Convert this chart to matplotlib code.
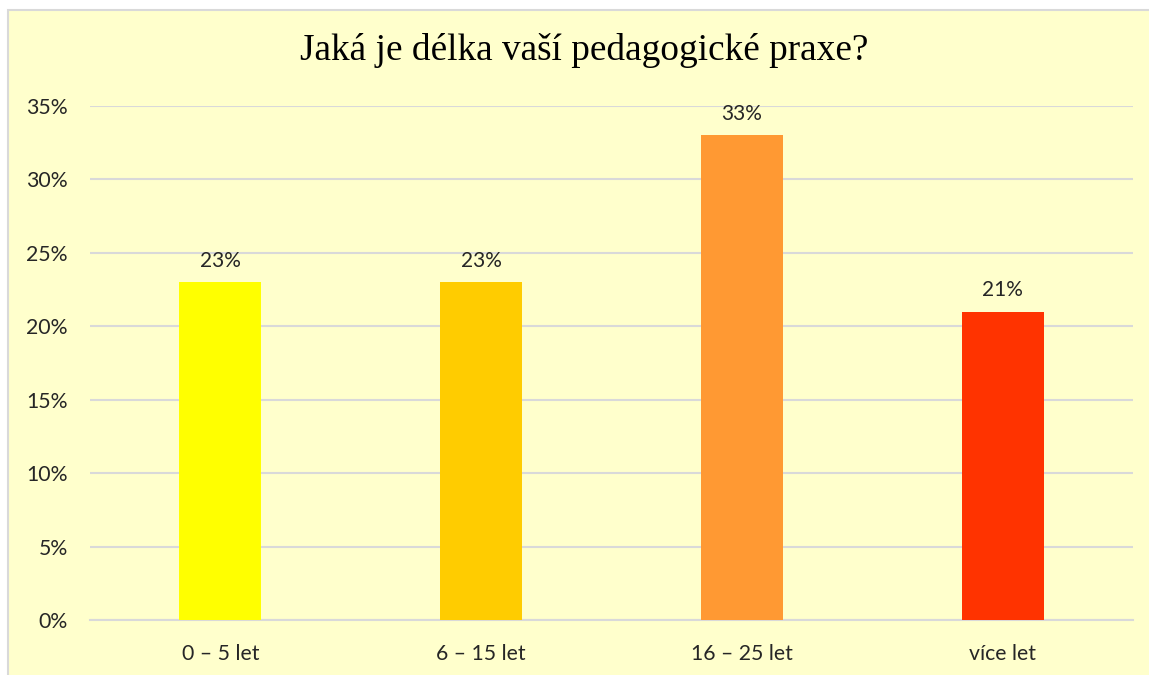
import matplotlib.pyplot as plt
from matplotlib.patches import Rectangle
from matplotlib.ticker import PercentFormatter

categories = ["0 – 5 let", "6 – 15 let", "16 – 25 let", "více let"]
values = [0.23, 0.23, 0.33, 0.21]
colors = ["#FFFF00", "#FFCC00", "#FF9933", "#FF3300"]

W, H = 1149, 675
fig = plt.figure(figsize=(W / 100, H / 100), dpi=100, facecolor="white")

# chart background with thin border
bg = Rectangle((8 / W, -0.01), 1.0, 1 - 10 / H + 0.01, transform=fig.transFigure,
               facecolor="#FFFFCC", edgecolor="#D9D9D9", linewidth=1.5, zorder=-10)
fig.patches.append(bg)

ax = fig.add_axes([90 / W, (H - 620) / H, (1133 - 90) / W, (620 - 106) / H])
ax.set_facecolor("none")

x = list(range(len(categories)))
ax.bar(x, values, width=0.315, color=colors, zorder=3)
for xi, v in zip(x, values):
    ax.annotate(f"{v * 100:.0f}%", (xi, v), xytext=(0, 8), textcoords="offset points",
                ha="center", va="bottom", fontsize=15, fontfamily="Lato", color="#262626")

ax.set_xlim(-0.5, len(categories) - 0.5)
ax.set_ylim(0, 0.35)
ax.set_yticks([i * 0.05 for i in range(8)])
ax.yaxis.set_major_formatter(PercentFormatter(1.0, decimals=0))
ax.set_xticks(x)
ax.set_xticklabels(categories)
ax.grid(axis="y", color="#D9D9D9", linewidth=1.5, zorder=0)
for s in ["top", "right", "left"]:
    ax.spines[s].set_visible(False)
ax.spines["bottom"].set_color("#D9D9D9")
ax.spines["bottom"].set_linewidth(1.5)
ax.tick_params(axis="both", length=0, labelsize=15.3, labelcolor="#262626")
ax.tick_params(axis="y", pad=16)
ax.tick_params(axis="x", pad=17)
for lbl in ax.get_xticklabels() + ax.get_yticklabels():
    lbl.set_fontfamily("Lato")

fig.text(584 / W, 1 - 51 / H, "Jaká je délka vaší pedagogické praxe?", ha="center", va="center",
         fontsize=26.8, fontfamily="Liberation Serif", color="black")

fig.savefig("out.png", dpi=100, facecolor="white")
